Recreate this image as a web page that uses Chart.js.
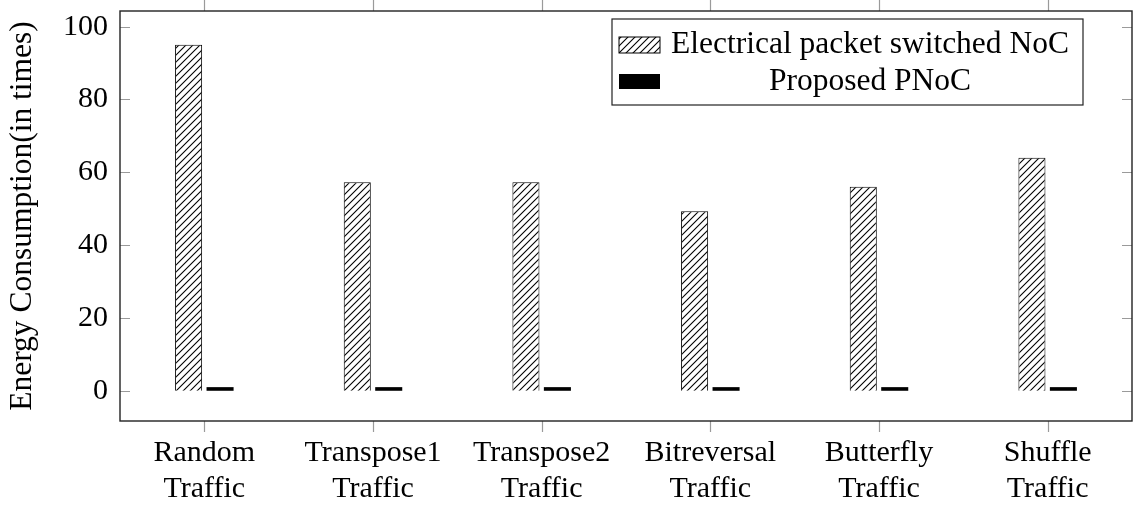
<!DOCTYPE html>
<html>
<head>
<meta charset="utf-8">
<script src="https://cdn.jsdelivr.net/npm/chart.js@4.4.0/dist/chart.umd.min.js"></script>
<style>
  html, body { margin: 0; padding: 0; background: #fff; }
  #wrap { width: 1133px; height: 506px; }
</style>
</head>
<body>
<div id="wrap"><canvas id="energyChart" width="1133" height="506"></canvas></div>
<script>
// data
const categories = [
    ['Random', 'Traffic'],
    ['Transpose1', 'Traffic'],
    ['Transpose2', 'Traffic'],
    ['Bitreversal', 'Traffic'],
    ['Butterfly', 'Traffic'],
    ['Shuffle', 'Traffic']
];
const seriesNames = ['Electrical packet switched NoC', 'Proposed PNoC'];
const electricalNoC = [95, 57.3, 57.3, 49.3, 56, 64];
const proposedPNoC = [1, 1, 1, 1, 1, 1];
const yTicks = [0, 20, 40, 60, 80, 100];

const serif = "'Liberation Serif', 'Times New Roman', serif";

// north east lines pattern
function makeHatch() {
    const size = 7;
    const c = document.createElement('canvas');
    c.width = size;
    c.height = size;
    const g = c.getContext('2d');
    g.fillStyle = '#fff';
    g.fillRect(0, 0, size, size);
    g.strokeStyle = '#000';
    g.lineWidth = 1.1;
    g.beginPath();
    g.moveTo(-1, size + 1); g.lineTo(size + 1, -1);
    g.moveTo(-1, 1); g.lineTo(1, -1);
    g.moveTo(size - 1, size + 1); g.lineTo(size + 1, size - 1);
    g.stroke();
    return g.createPattern(c, 'repeat');
}
const hatch = makeHatch();

// box, tick marks and legend drawn like pgfplots
const framePlugin = {
    id: 'frame',
    afterDraw(chart) {
        const ctx = chart.ctx;
        const a = chart.chartArea;
        const x = chart.scales.x;
        const y = chart.scales.y;
        ctx.save();
        ctx.strokeStyle = '#9a9a9a';
        ctx.lineWidth = 1.2;
        ctx.beginPath();
        yTicks.forEach(v => {
            const py = Math.round(y.getPixelForValue(v)) + 0.5;
            ctx.moveTo(a.left, py); ctx.lineTo(a.left + 10, py);
            ctx.moveTo(a.right, py); ctx.lineTo(a.right - 10, py);
        });
        categories.forEach((c, i) => {
            const px = Math.round(x.getPixelForTick(i)) + 0.5;
            ctx.moveTo(px, a.bottom); ctx.lineTo(px, a.bottom + 11);
            ctx.moveTo(px, a.top); ctx.lineTo(px, a.top - 11);
        });
        ctx.stroke();

        ctx.strokeStyle = '#222';
        ctx.lineWidth = 1.4;
        ctx.strokeRect(a.left, a.top, a.right - a.left, a.bottom - a.top);

        // legend
        const lx = a.right - 520;
        const ly = a.top + 8;
        const lw = 471;
        const lh = 86;
        ctx.fillStyle = '#fff';
        ctx.fillRect(lx, ly, lw, lh);
        ctx.strokeStyle = '#222';
        ctx.lineWidth = 1.2;
        ctx.strokeRect(lx, ly, lw, lh);

        ctx.fillStyle = hatch;
        ctx.fillRect(lx + 7, ly + 18, 41, 16);
        ctx.strokeStyle = '#000';
        ctx.lineWidth = 1;
        ctx.strokeRect(lx + 7, ly + 18, 41, 16);
        ctx.fillStyle = '#000';
        ctx.fillRect(lx + 7, ly + 55, 41, 15);

        ctx.font = '31.5px ' + serif;
        ctx.textAlign = 'center';
        ctx.textBaseline = 'alphabetic';
        const tx = lx + 258;
        ctx.fillText(seriesNames[0], tx, ly + 34);
        ctx.fillText(seriesNames[1], tx, ly + 71);
        ctx.restore();
    }
};

const energyCTX = document.getElementById('energyChart').getContext('2d');
const energyChart = new Chart(energyCTX, {
    type: 'bar',
    data: {
        labels: categories,
        datasets: [
            {
                label: seriesNames[0],
                data: electricalNoC,
                backgroundColor: hatch,
                borderColor: '#000',
                borderWidth: 1,
                categoryPercentage: 0.373,
                barPercentage: 0.86
            },
            {
                label: seriesNames[1],
                data: proposedPNoC,
                backgroundColor: '#000',
                borderWidth: 0,
                categoryPercentage: 0.373,
                barPercentage: 0.86
            }
        ]
    },
    options: {
        responsive: false,
        animation: false,
        layout: { padding: { left: 0, right: 1, top: 11, bottom: 0 } },
        plugins: {
            legend: { display: false },
            tooltip: { enabled: false }
        },
        scales: {
            x: {
                grid: { display: false, drawTicks: false },
                border: { display: false },
                ticks: {
                    color: '#000',
                    font: { family: serif, size: 30, lineHeight: 1.2 },
                    padding: 14,
                    maxRotation: 0,
                    autoSkip: false
                },
                afterFit(scale) {
                    scale.height = 85;
                    scale.paddingLeft = 0;
                    scale.paddingRight = 0;
                }
            },
            y: {
                min: -8.3,
                max: 104.3,
                afterBuildTicks(scale) {
                    scale.ticks = yTicks.map(v => ({ value: v }));
                },
                grid: { display: false, drawTicks: false },
                border: { display: false },
                ticks: {
                    color: '#000',
                    font: { family: serif, size: 30 },
                    padding: 12
                },
                title: {
                    display: true,
                    text: 'Energy Consumption(in times)',
                    color: '#000',
                    font: { family: serif, size: 31.5, lineHeight: 1.2 },
                    padding: { top: 4, bottom: 0 }
                },
                afterFit(scale) {
                    scale.width = 120;
                    scale.paddingTop = 0;
                    scale.paddingBottom = 0;
                }
            }
        }
    },
    plugins: [framePlugin]
});
</script>
</body>
</html>
